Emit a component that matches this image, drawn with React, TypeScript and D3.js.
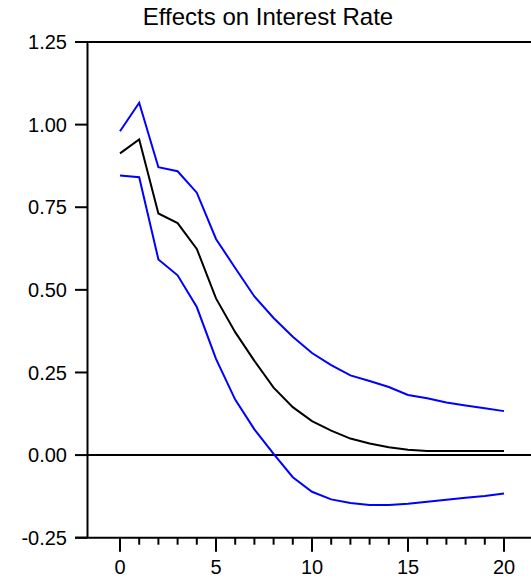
import React from "react";
import * as d3 from "d3";

const horizons = d3.range(0, 21);
const central = [0.913, 0.955, 0.731, 0.702, 0.624, 0.474, 0.372, 0.285, 0.204, 0.145, 0.103, 0.074, 0.050, 0.035, 0.024, 0.016, 0.012, 0.012, 0.012, 0.012, 0.012];
const upper = [0.980, 1.066, 0.871, 0.859, 0.794, 0.654, 0.566, 0.480, 0.415, 0.358, 0.309, 0.272, 0.241, 0.224, 0.206, 0.182, 0.172, 0.159, 0.150, 0.142, 0.133];
const lower = [0.846, 0.841, 0.592, 0.544, 0.448, 0.291, 0.168, 0.078, 0.004, -0.067, -0.111, -0.134, -0.145, -0.151, -0.151, -0.147, -0.141, -0.135, -0.129, -0.124, -0.116];
const yTicks = [-0.25, 0, 0.25, 0.5, 0.75, 1.0, 1.25];
const xMajor = [0, 5, 10, 15, 20];
const title = "Effects on Interest Rate";

export default function App() {
  const W = 531, H = 580;
  const left = 87.5, top = 42, bottom = 537.7, right = 531;
  const x = d3.scaleLinear().domain([0, 20]).range([120, 504]);
  const y = d3.scaleLinear().domain([-0.25, 1.25]).range([bottom, top]);
  const line = d3.line<number>().x((_, i) => x(horizons[i])).y((d) => y(d));
  const fmt = (t: number) => t.toFixed(2);
  const font = "'Liberation Sans', Arial, sans-serif";
  return (
    <svg width={W} height={H} style={{ position: "absolute", left: 0, top: 0, background: "#fff" }} fontFamily={font}>
      <text x={268} y={25} fontSize={24} textAnchor="middle" fill="#000">{title}</text>
      <line x1={75} x2={right} y1={top} y2={top} stroke="#000" strokeWidth={2} />
      <line x1={75} x2={right} y1={bottom} y2={bottom} stroke="#000" strokeWidth={2} />
      <line x1={left} x2={left} y1={top} y2={bottom} stroke="#000" strokeWidth={2} />
      <line x1={left} x2={right} y1={y(0)} y2={y(0)} stroke="#000" strokeWidth={2} />
      {yTicks.map((t) => (
        <g key={t}>
          <line x1={75} x2={left} y1={y(t)} y2={y(t)} stroke="#000" strokeWidth={2} />
          <text x={67} y={y(t)} dy="0.36em" fontSize={20} textAnchor="end" fill="#000">{fmt(t)}</text>
        </g>
      ))}
      {horizons.map((h) => {
        const major = xMajor.includes(h);
        return (
          <line key={h} x1={x(h)} x2={x(h)} y1={bottom} y2={bottom + (major ? 14 : 7)} stroke="#000" strokeWidth={2} />
        );
      })}
      {xMajor.map((h) => (
        <text key={h} x={x(h)} y={574} fontSize={20} textAnchor="middle" fill="#000">{h}</text>
      ))}
      <path d={line(upper) || ""} fill="none" stroke="#0000ff" strokeWidth={2} />
      <path d={line(lower) || ""} fill="none" stroke="#0000ff" strokeWidth={2} />
      <path d={line(central) || ""} fill="none" stroke="#000" strokeWidth={2} />
    </svg>
  );
}
